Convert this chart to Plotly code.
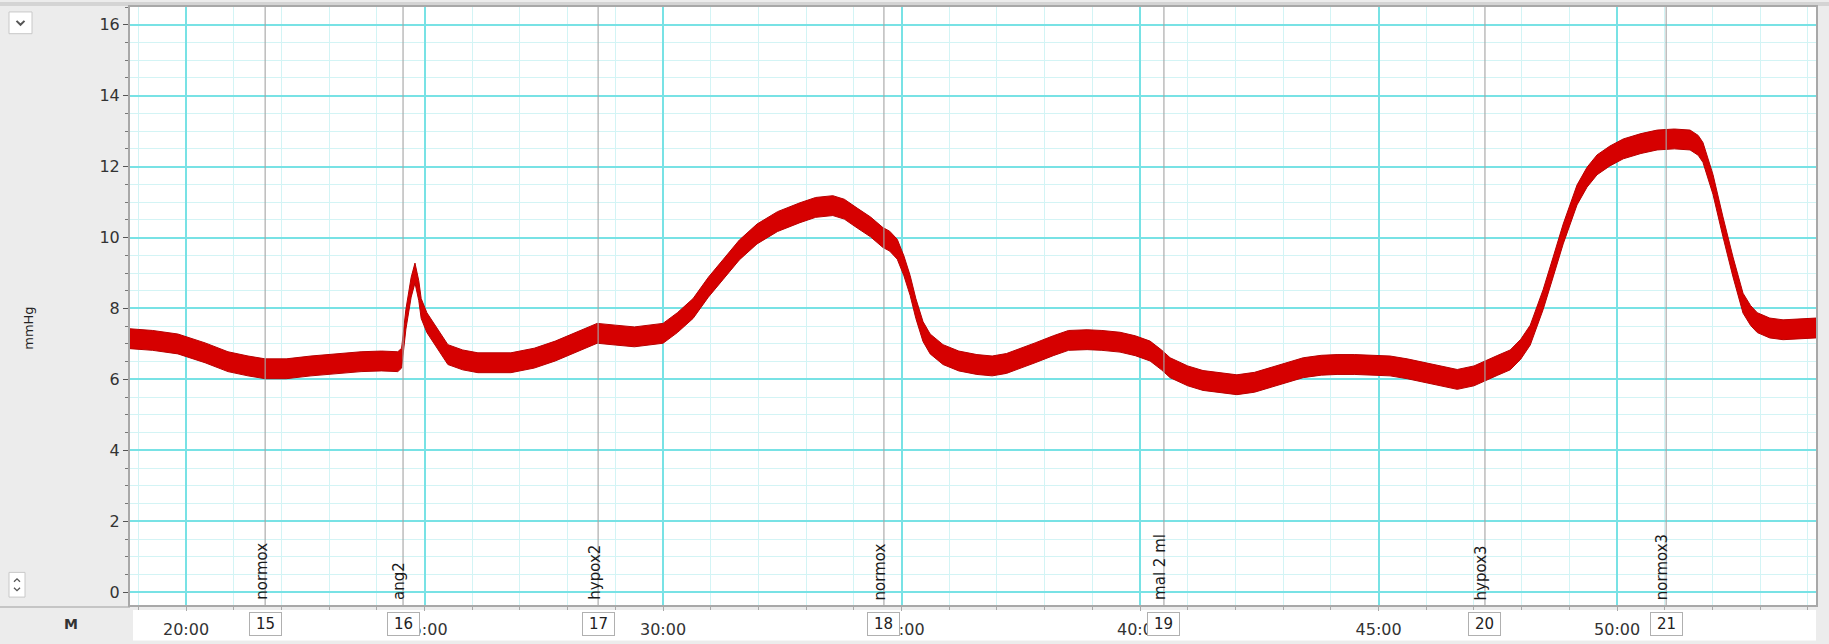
import plotly.graph_objects as go

# ---------------- data ----------------
time_min = [18.80, 19.30, 19.83, 20.40, 20.88, 21.30, 21.66, 22.10, 22.62, 23.20,
            23.67, 24.10, 24.44, 24.52, 24.61, 24.72, 24.80, 24.88, 24.93, 25.05,
            25.22, 25.49, 25.80, 26.12, 26.81, 27.30, 27.74, 28.20, 28.62, 29.00,
            29.40, 30.00, 30.30, 30.63, 30.95, 31.26, 31.60, 31.97, 32.40, 32.87,
            33.20, 33.56, 33.80, 34.07, 34.35, 34.61, 34.75, 34.91, 35.05, 35.18,
            35.30, 35.45, 35.60, 35.87, 36.20, 36.58, 36.90, 37.20, 37.48, 37.80,
            38.18, 38.50, 38.89, 39.20, 39.58, 39.90, 40.21, 40.45, 40.63, 41.00,
            41.32, 41.70, 42.03, 42.40, 42.73, 43.10, 43.42, 43.80, 44.13, 44.50,
            44.82, 45.24, 45.60, 45.93, 46.30, 46.65, 47.00, 47.27, 47.50, 47.76,
            47.98, 48.18, 48.45, 48.66, 48.87, 49.16, 49.37, 49.58, 49.85, 50.13,
            50.50, 50.84, 51.20, 51.53, 51.70, 51.80, 51.90, 52.01, 52.22, 52.43,
            52.64, 52.80, 52.94, 53.20, 53.48, 53.80, 54.17]
pressure_mmhg = [7.15, 7.10, 7.00, 6.75, 6.50, 6.38, 6.30, 6.30, 6.38, 6.45,
                 6.50, 6.52, 6.50, 6.60, 7.70, 8.60, 9.00, 8.50, 8.00, 7.60,
                 7.25, 6.70, 6.55, 6.47, 6.47, 6.60, 6.80, 7.05, 7.30, 7.25,
                 7.20, 7.30, 7.60, 8.00, 8.60, 9.10, 9.65, 10.10, 10.45, 10.70,
                 10.85, 10.90, 10.80, 10.55, 10.30, 10.00, 9.90, 9.67, 9.20, 8.65,
                 8.00, 7.35, 7.00, 6.70, 6.52, 6.42, 6.38, 6.45, 6.60, 6.75,
                 6.95, 7.10, 7.12, 7.10, 7.05, 6.95, 6.80, 6.55, 6.33, 6.10,
                 5.97, 5.90, 5.85, 5.92, 6.05, 6.20, 6.33, 6.40, 6.42, 6.42,
                 6.40, 6.38, 6.30, 6.20, 6.10, 6.00, 6.10, 6.25, 6.40, 6.55,
                 6.85, 7.25, 8.25, 9.17, 10.10, 11.20, 11.70, 12.05, 12.30, 12.50,
                 12.65, 12.75, 12.78, 12.75, 12.60, 12.40, 12.00, 11.50, 10.30, 9.17,
                 8.15, 7.80, 7.60, 7.45, 7.40, 7.42, 7.45]
noise_half_band = 0.28  # half thickness of the noisy trace band, mmHg

event_times = [21.66, 24.55, 28.64, 34.63, 40.50, 47.23, 51.03]
event_labels = ["normox", "ang2", "hypox2", "normox", "mal 2 ml", "hypox3", "normox3"]
event_numbers = ["15", "16", "17", "18", "19", "20", "21"]

x_tick_vals = [20, 25, 30, 35, 40, 45, 50]
x_tick_text = ["20:00", "25:00", "30:00", "35:00", "40:00", "45:00", "50:00"]
y_tick_vals = [0, 2, 4, 6, 8, 10, 12, 14, 16]

# ---------------- geometry helpers ----------------
W, H = 1829, 644
ML, MR, MT, MB = 130, 13, 5, 34
PW, PH = W - ML - MR, H - MT - MB


def px_x(x):
    return (x - ML) / PW


def px_y(y):
    return (H - MB - y) / PH


def chevron(cx, cy, half, dy):
    return (f"M {px_x(cx - half)} {px_y(cy - dy)} L {px_x(cx)} {px_y(cy + dy)} "
            f"L {px_x(cx + half)} {px_y(cy - dy)}")


upper = [p + noise_half_band for p in pressure_mmhg]
lower = [p - noise_half_band for p in pressure_mmhg]

fig = go.Figure()
fig.add_trace(go.Scatter(x=time_min, y=lower, mode="lines",
                         line=dict(color="#b80000", width=1), hoverinfo="skip"))
fig.add_trace(go.Scatter(x=time_min, y=upper, mode="lines", fill="tonexty",
                         fillcolor="#d60000",
                         line=dict(color="#b80000", width=1), hoverinfo="skip"))

# event marker lines
for t in event_times:
    fig.add_shape(type="line", xref="x", yref="paper", x0=t, x1=t, y0=0, y1=1,
                  line=dict(color="rgba(165,165,165,0.75)", width=1.5), layer="above")

# white strip under the plot for time labels
fig.add_shape(type="rect", xref="paper", yref="paper", x0=px_x(133), x1=1.0,
              y0=px_y(615), y1=px_y(646), fillcolor="white", line=dict(width=0),
              layer="below")
# top gray bar
fig.add_shape(type="rect", xref="paper", yref="paper", x0=px_x(0), x1=px_x(W),
              y0=px_y(0), y1=px_y(4), fillcolor="#d4d4d4", line=dict(width=0),
              layer="below")
# left separator line
fig.add_shape(type="line", xref="paper", yref="paper", x0=px_x(0), x1=px_x(130),
              y0=px_y(612), y1=px_y(612), line=dict(color="#b8b8b8", width=1.5),
              layer="below")
# control boxes with chevrons
fig.add_shape(type="rect", xref="paper", yref="paper", x0=px_x(9), x1=px_x(32),
              y0=px_y(32), y1=px_y(10), fillcolor="white",
              line=dict(color="#c8c8c8", width=1), layer="below")
fig.add_shape(type="path", xref="paper", yref="paper", path=chevron(20.5, 21, 4, 2),
              line=dict(color="#555", width=2), layer="below")
fig.add_shape(type="rect", xref="paper", yref="paper", x0=px_x(9), x1=px_x(25),
              y0=px_y(602), y1=px_y(577), fillcolor="white",
              line=dict(color="#c8c8c8", width=1), layer="below")
fig.add_shape(type="path", xref="paper", yref="paper", path=chevron(17, 585, 3, -1.5),
              line=dict(color="#555", width=1.3), layer="below")
fig.add_shape(type="path", xref="paper", yref="paper", path=chevron(17, 594, 3, 1.5),
              line=dict(color="#555", width=1.3), layer="below")

annotations = []
for t, lab, num in zip(event_times, event_labels, event_numbers):
    annotations.append(dict(x=t, xref="x", y=0, yref="paper", text=lab,
                            textangle=-90, showarrow=False, xanchor="center",
                            yanchor="bottom", xshift=-4, yshift=3,
                            font=dict(size=15, color="#1a1a1a")))
    annotations.append(dict(x=t, xref="x", y=0, yref="paper", text=num,
                            showarrow=False, xanchor="center", yanchor="top",
                            yshift=-7, bgcolor="white", bordercolor="#b0b0b0",
                            borderwidth=1, borderpad=2, width=27, height=18,
                            font=dict(size=15, color="#222")))

annotations.append(dict(x=px_x(19), y=px_y(330), xref="paper", yref="paper",
                        text="mmHg", textangle=-90, showarrow=False,
                        font=dict(size=13, color="#222")))
annotations.append(dict(x=px_x(62), y=px_y(639), xref="paper", yref="paper",
                        text="<b>M</b>", showarrow=False,
                        font=dict(size=14, color="#333")))

major_grid = "#78e2e5"
minor_grid = "#d3f4f5"

fig.update_layout(
    width=W, height=H,
    margin=dict(l=ML, r=MR, t=MT, b=MB),
    paper_bgcolor="#ececec", plot_bgcolor="white",
    showlegend=False,
    font=dict(family="DejaVu Sans", color="#333"),
    annotations=annotations,
    xaxis=dict(range=[18.826, 54.17], tickmode="array", tickvals=x_tick_vals,
               ticktext=x_tick_text, showgrid=True, gridcolor=major_grid,
               gridwidth=1.5, zeroline=False, showline=True, linecolor="#a8a8a8",
               linewidth=2, mirror=True, ticks="outside", ticklen=4,
               tickcolor="#aaa", ticklabelstandoff=5,
               tickfont=dict(size=16, color="#333"),
               minor=dict(tickvals=list(range(19, 55)), ticks="outside",
                          ticklen=3, tickcolor="#aaa", showgrid=True,
                          gridcolor=minor_grid, gridwidth=1)),
    yaxis=dict(range=[-0.36, 16.5], tickmode="array", tickvals=y_tick_vals,
               showgrid=True, gridcolor=major_grid, gridwidth=1.5,
               zeroline=False, showline=True, linecolor="#a8a8a8", linewidth=2,
               mirror=True, ticks="outside", ticklen=5, tickcolor="#555",
               tickfont=dict(size=16, color="#333"),
               minor=dict(dtick=0.5, tick0=0, ticks="outside", ticklen=3,
                          tickcolor="#777", showgrid=True,
                          gridcolor=minor_grid, gridwidth=1)),
)

fig.write_html("out.html", config={"displayModeBar": False},
               post_script="document.body.style.margin='0';document.body.style.overflow='hidden';")
